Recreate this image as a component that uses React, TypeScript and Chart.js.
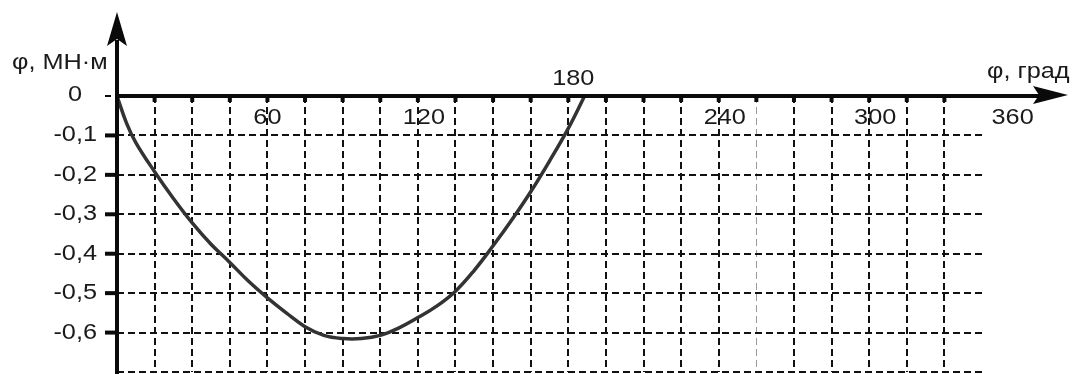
import React, { useEffect, useRef } from "react";
import { Chart, registerables } from "chart.js";

Chart.register(...registerables);

// Curve data: angle (deg) vs moment (MN·m)
const angles = [0, 3.75, 7.5, 15, 22.5, 30, 37.5, 45, 52.5, 60, 67.5, 75, 82.5, 90, 97.5, 105, 112.5, 120, 127.5, 135, 142.5, 150, 157.5, 165, 172.5, 180, 186.5];
const moments = [0, -0.068, -0.118, -0.192, -0.26, -0.322, -0.376, -0.422, -0.47, -0.512, -0.55, -0.585, -0.607, -0.615, -0.615, -0.607, -0.588, -0.562, -0.533, -0.495, -0.442, -0.38, -0.314, -0.243, -0.165, -0.082, 0];

const xGridStep = 15;
const xMin = 0;
const xMax = 345;
const yMin = -0.7;
const yMax = 0;
const yGridStep = 0.1;

const xTickValues = [60, 120, 180, 240, 300, 360];
const xTickLabels = ["60", "120", "180", "240", "300", "360"];
const yTickValues = [0, -0.1, -0.2, -0.3, -0.4, -0.5, -0.6];
const yTickLabels = ["0", "-0,1", "-0,2", "-0,3", "-0,4", "-0,5", "-0,6"];

const xTitle = "φ, град";
const yTitle = "φ, МН·м";

const FONT = "22px 'Liberation Sans', Arial, sans-serif";
const TEXT_COLOR = "#1a1a1a";
const STRETCH = 1.15;

function drawText(ctx: CanvasRenderingContext2D, text: string, x: number, y: number, align: CanvasTextAlign) {
  ctx.save();
  ctx.translate(x, y);
  ctx.scale(STRETCH, 1);
  ctx.font = FONT;
  ctx.fillStyle = TEXT_COLOR;
  ctx.textAlign = align;
  ctx.textBaseline = "alphabetic";
  ctx.fillText(text, 0, 0);
  ctx.restore();
}

const axesPlugin = {
  id: "axesPlugin",
  afterDatasetsDraw(chart: any) {
    const ctx: CanvasRenderingContext2D = chart.ctx;
    const xs = chart.scales.x;
    const ys = chart.scales.y;
    const x0 = xs.getPixelForValue(0);
    const y0 = ys.getPixelForValue(0);
    const W = chart.width;
    const H = chart.height;
    ctx.save();
    ctx.fillStyle = "#0a0a0a";
    ctx.strokeStyle = "#0a0a0a";
    ctx.lineCap = "butt";

    // x axis
    ctx.lineWidth = 4;
    ctx.beginPath();
    ctx.moveTo(x0, y0);
    ctx.lineTo(W - 30, y0);
    ctx.stroke();
    ctx.beginPath();
    ctx.moveTo(W - 5, y0 - 1);
    ctx.lineTo(W - 40, y0 - 10);
    ctx.lineTo(W - 34, y0 - 1);
    ctx.lineTo(W - 40, y0 + 8);
    ctx.closePath();
    ctx.fill();

    // y axis
    ctx.beginPath();
    ctx.moveTo(x0, H);
    ctx.lineTo(x0, 40);
    ctx.stroke();
    ctx.beginPath();
    ctx.moveTo(x0, 12);
    ctx.lineTo(x0 - 10, 46);
    ctx.lineTo(x0, 39);
    ctx.lineTo(x0 + 10, 46);
    ctx.closePath();
    ctx.fill();

    // x tick nubs
    for (let v = xGridStep; v < xMax; v += xGridStep) {
      const px = xs.getPixelForValue(v);
      ctx.fillRect(px - 2, y0, 4, 6);
    }
    // y tick nubs
    yTickValues.forEach((v) => {
      const py = ys.getPixelForValue(v);
      ctx.beginPath();
      if (v === 0) {
        ctx.lineWidth = 2;
        ctx.moveTo(x0 - 12, py);
        ctx.lineTo(x0 - 6, py);
      } else {
        ctx.lineWidth = 4;
        ctx.moveTo(x0 - 12, py);
        ctx.lineTo(x0, py);
      }
      ctx.stroke();
    });
    ctx.restore();

    // y labels
    yTickValues.forEach((v, i) => {
      const py = ys.getPixelForValue(v);
      if (v === 0) drawText(ctx, yTickLabels[i], x0 - 35, py + 5, "right");
      else drawText(ctx, yTickLabels[i], x0 - 20, py + 6, "right");
    });

    // x labels
    xTickValues.forEach((v, i) => {
      const px = xs.getPixelForValue(v);
      if (v === 180) drawText(ctx, xTickLabels[i], px + 5, y0 - 11, "center");
      else if (v === 360) drawText(ctx, xTickLabels[i], px - 7, y0 + 28, "center");
      else if (v === 60) drawText(ctx, xTickLabels[i], px, y0 + 28, "center");
      else drawText(ctx, xTickLabels[i], px + 6, y0 + 28, "center");
    });

    // titles
    drawText(ctx, yTitle, 12, 69, "left");
    drawText(ctx, xTitle, 987, 78, "left");
  },
};

export default function App() {
  const canvasRef = useRef<HTMLCanvasElement | null>(null);

  useEffect(() => {
    document.body.style.margin = "0";
    const canvas = canvasRef.current;
    if (!canvas) return;
    const points = angles.map((a, i) => ({ x: a, y: moments[i] }));
    const chart = new Chart(canvas, {
      type: "line",
      data: {
        datasets: [
          {
            data: points,
            borderColor: "#333333",
            borderWidth: 3.5,
            pointRadius: 0,
            fill: false,
            tension: 0.4,
            clip: false as any,
          },
        ],
      },
      options: {
        animation: false,
        responsive: true,
        maintainAspectRatio: false,
        events: [],
        layout: {
          autoPadding: false,
          padding: { left: 117, top: 96, right: 91, bottom: 2 },
        },
        plugins: {
          legend: { display: false },
          tooltip: { enabled: false },
        },
        scales: {
          x: {
            type: "linear",
            min: xMin,
            max: xMax,
            ticks: { display: false, stepSize: xGridStep },
            border: { display: false, dash: [7, 4] },
            grid: {
              drawTicks: false,
              color: (c: any) => {
                const v = c.tick ? c.tick.value : null;
                if (v === xMin || v === xMax) return "transparent";
                if (v === 255) return "#9a9a9a";
                return "#111";
              },
              lineWidth: (c: any) => (c.tick && c.tick.value === 255 ? 1 : 2),
            },
          },
          y: {
            type: "linear",
            min: yMin,
            max: yMax,
            ticks: { display: false, stepSize: yGridStep },
            border: { display: false, dash: [7, 4] },
            grid: {
              drawTicks: false,
              color: (c: any) => (c.tick && Math.abs(c.tick.value) < 1e-9 ? "transparent" : "#111"),
              lineWidth: 2,
            },
          },
        },
      },
      plugins: [axesPlugin],
    });
    return () => chart.destroy();
  }, []);

  return (
    <div style={{ position: "absolute", left: 0, top: 0, width: 1073, height: 374, background: "#fff" }}>
      <canvas ref={canvasRef} />
    </div>
  );
}
